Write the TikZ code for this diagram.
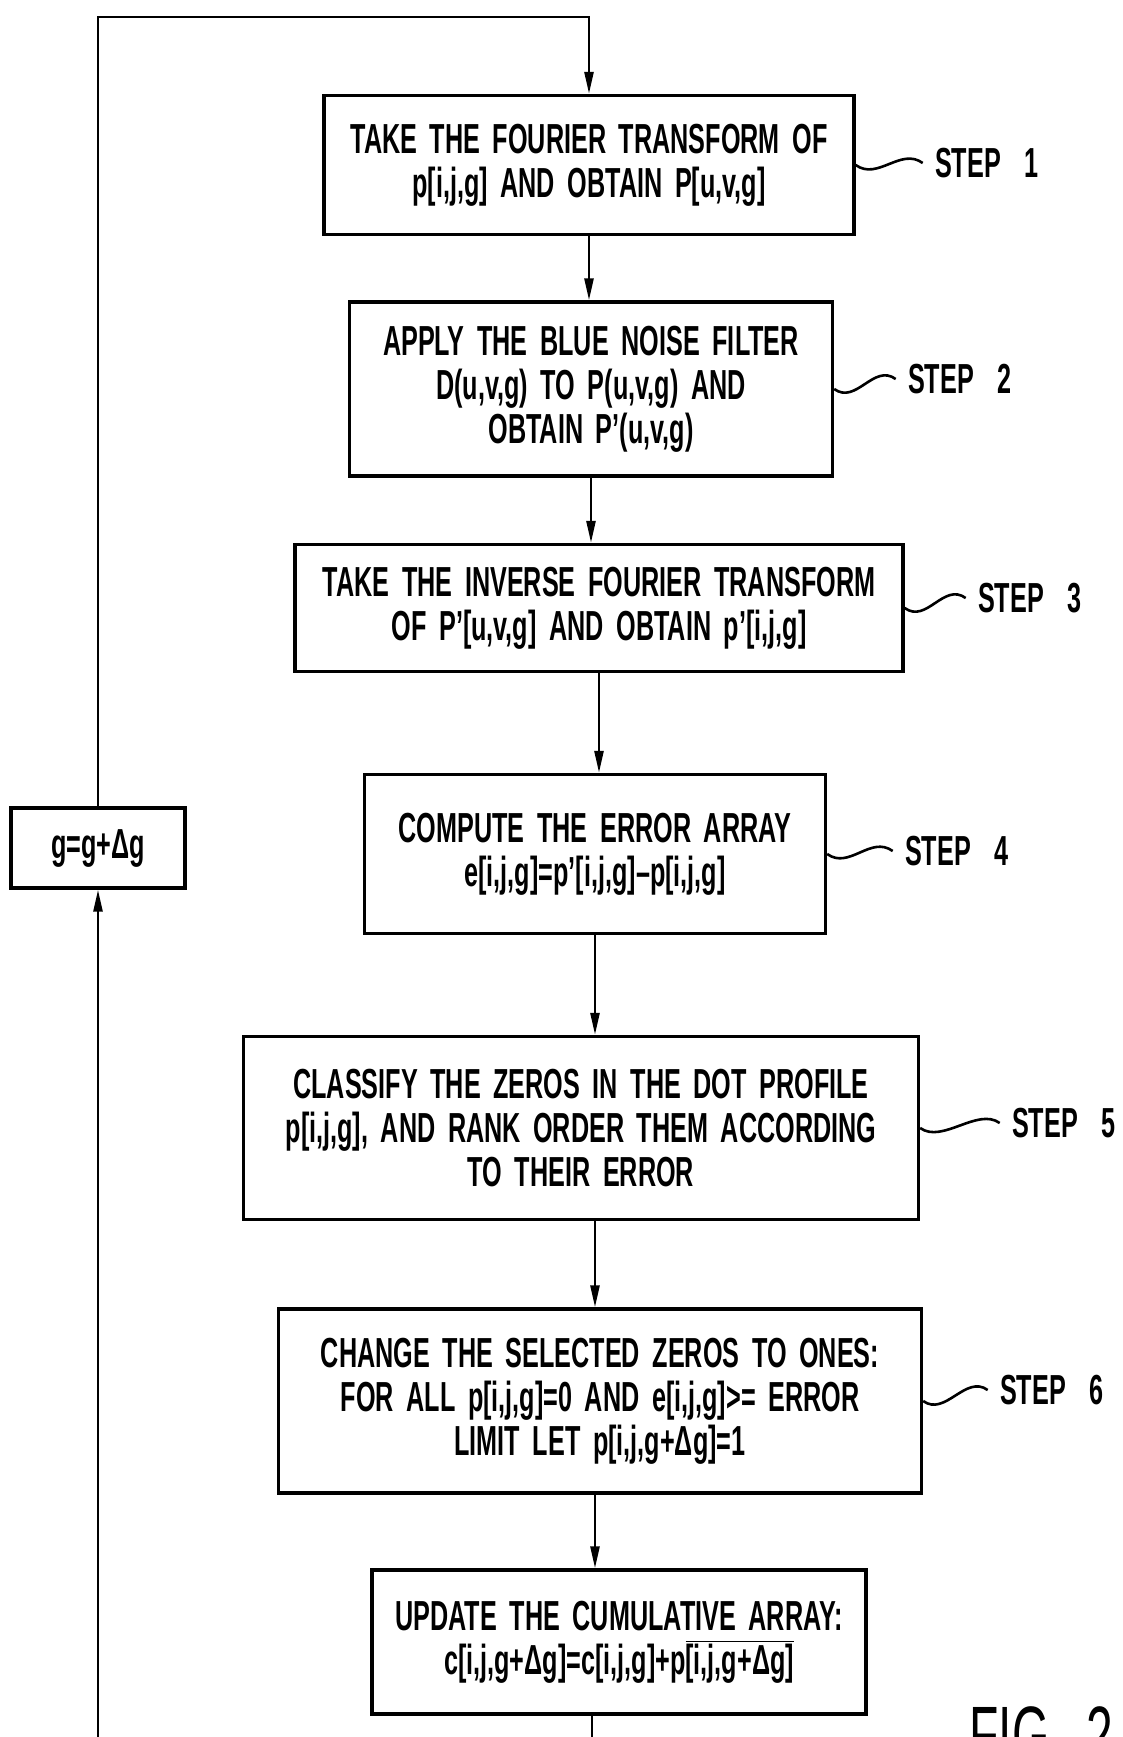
\documentclass[tikz,border=0pt]{standalone}
\usepackage{fontspec}
\setmainfont{Liberation Sans}[FakeStretch=0.6, WordSpace=1.8]
\usetikzlibrary{arrows.meta}
\newcommand{\ovl}[1]{$\overline{\hbox{#1}}$}
\tikzset{
  box/.style={draw, line width=1.7pt, align=center, inner sep=0pt,
    font=\bfseries\fontsize{21}{22}\selectfont},
  steplabel/.style={font=\bfseries\fontsize{21}{22}\selectfont, inner sep=6pt},
  flow/.style={line width=1.3pt, -{Triangle[length=11pt,width=4.5pt]}},
  wave/.style={line width=1.3pt},
}
\begin{document}
\begin{tikzpicture}[x=0.5pt,y=-0.5pt]
\useasboundingbox (0,0) rectangle (1123,1737);

\node[box, minimum width=265pt, minimum height=69.5pt] (b1) at (589,165)
  {TAKE THE FOURIER TRANSFORM OF\\p[i,j,g] AND OBTAIN P[u,v,g]};
\node[box, minimum width=241.5pt, minimum height=87pt] (b2) at (591,389)
  {APPLY THE BLUE NOISE FILTER\\D(u,v,g) TO P(u,v,g) AND\\OBTAIN P'(u,v,g)};
\node[box, minimum width=304pt, minimum height=63.5pt] (b3) at (599,608)
  {TAKE THE INVERSE FOURIER TRANSFORM\\OF P'[u,v,g] AND OBTAIN p'[i,j,g]};
\node[box, minimum width=230.5pt, minimum height=79.5pt] (b4) at (595,854)
  {COMPUTE THE ERROR ARRAY\\e[i,j,g]=p'[i,j,g]–p[i,j,g]};
\node[box, minimum width=337.5pt, minimum height=91.5pt] (b5) at (581,1128)
  {CLASSIFY THE ZEROS IN THE DOT PROFILE\\p[i,j,g], AND RANK ORDER THEM ACCORDING\\TO THEIR ERROR};
\node[box, minimum width=321.5pt, minimum height=92pt] (b6) at (600,1401)
  {CHANGE THE SELECTED ZEROS TO ONES:\\FOR ALL p[i,j,g]=0 AND e[i,j,g]>= ERROR\\LIMIT LET p[i,j,g+Δg]=1};
\node[box, minimum width=247pt, minimum height=72pt] (b7) at (619,1642)
  {UPDATE THE CUMULATIVE ARRAY:\\c[i,j,g+Δg]=c[i,j,g]+p\ovl{[i,j,g+Δg]}};
\node[box, minimum width=87pt, minimum height=40pt] (g) at (98,848) {g=g+Δg};

% step labels
\node[steplabel] (s1) at (987,163) {STEP\hspace{12pt}1};
\node[steplabel] (s2) at (960,379) {STEP\hspace{12pt}2};
\node[steplabel] (s3) at (1030,598) {STEP\hspace{12pt}3};
\node[steplabel] (s4) at (957,851) {STEP\hspace{12pt}4};
\node[steplabel] (s5) at (1064,1123) {STEP\hspace{12pt}5};
\node[steplabel] (s6) at (1052,1390) {STEP\hspace{12pt}6};

\draw[wave] (b1.east) .. controls +(22,16) and +(-22,-16) .. (s1.west);
\draw[wave] (b2.east) .. controls +(22,16) and +(-22,-16) .. (s2.west);
\draw[wave] (b3.east) .. controls +(22,16) and +(-22,-16) .. (s3.west);
\draw[wave] (b4.east) .. controls +(22,16) and +(-22,-16) .. (s4.west);
\draw[wave] (b5.east) .. controls +(22,16) and +(-22,-16) .. (s5.west);
\draw[wave] (b6.east) .. controls +(22,16) and +(-22,-16) .. (s6.west);

% main flow
\draw[flow] (b1.south) -- (b1.south |- b2.north);
\draw[flow] (b2.south) -- (b2.south |- b3.north);
\draw[flow] (b3.south) -- (b3.south |- b4.north);
\draw[flow] (b4.south) -- (b4.south |- b5.north);
\draw[flow] (b5.south -| b4.south) -- (b4.south |- b6.north);
\draw[flow] (b6.south -| b4.south) -- (b4.south |- b7.north);

% loop back
\coordinate (top) at (589,17);
\coordinate (bot) at (592,1775);
\draw[flow] (g.north) |- (top) -- (b1.north);
\draw[flow] (b7.south -| bot) -- (bot) -| (g.south);

\node[anchor=north west, inner sep=0pt, font=\fontsize{40}{40}\selectfont] (fig) at (969,1706) {FIG. 2};
\end{tikzpicture}
\end{document}
